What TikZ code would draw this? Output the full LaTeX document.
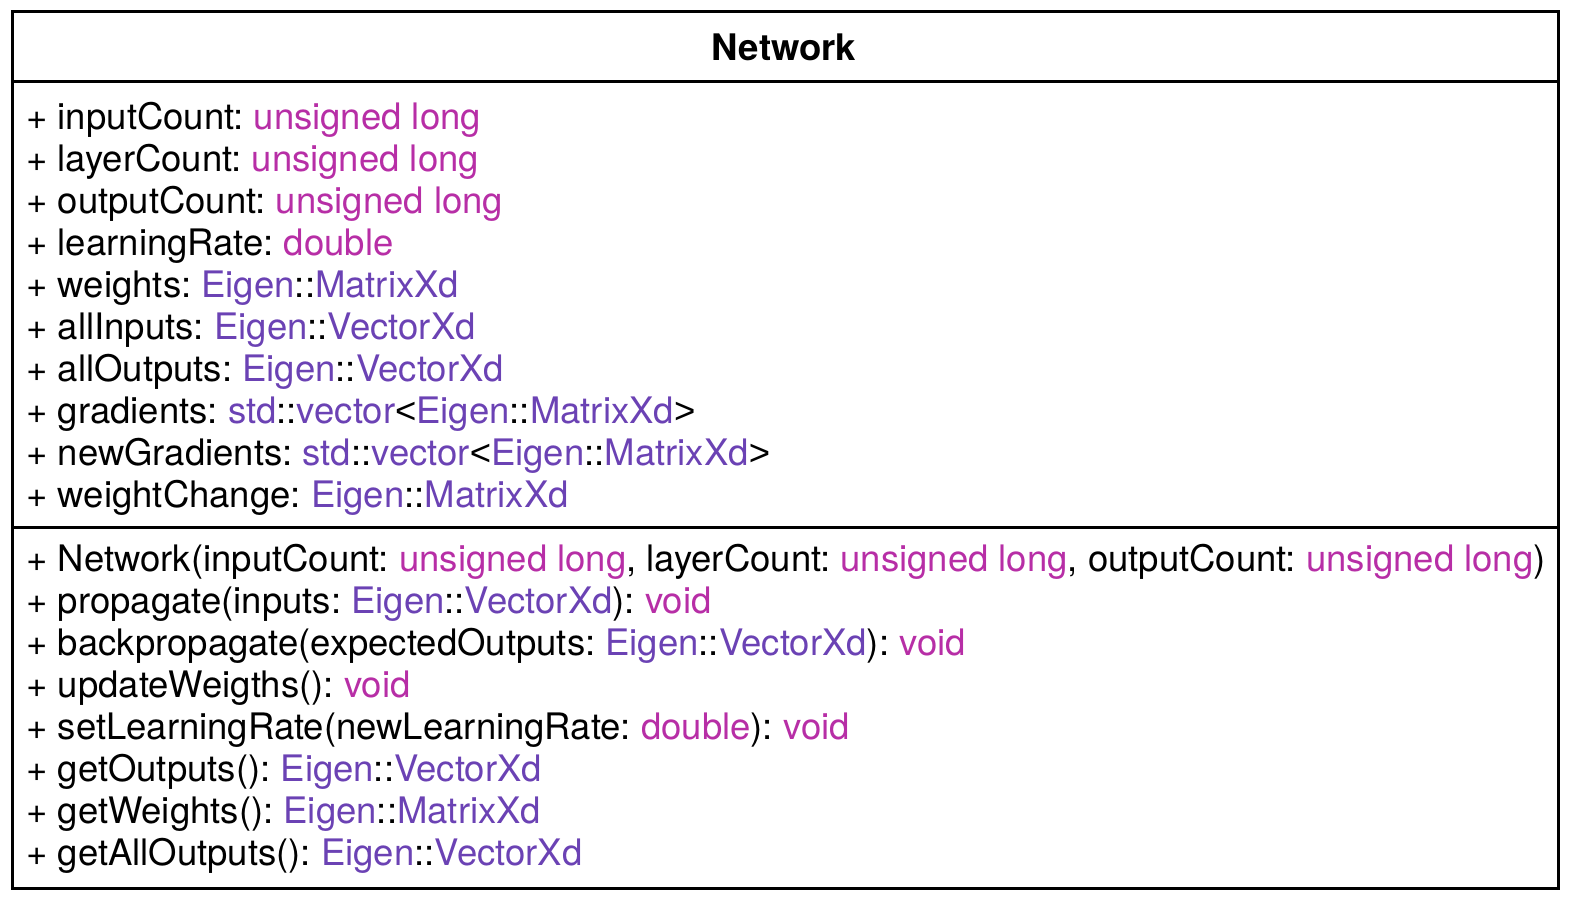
\documentclass[tikz,border=0pt]{standalone}
\usepackage{fontspec}
\setmainfont{TeX Gyre Heros}
\newfontfamily\anglefont{Liberation Sans}
\usetikzlibrary{positioning}
\definecolor{kwcol}{RGB}{183,46,166}
\definecolor{tycol}{RGB}{107,66,180}
\newcommand{\kwd}[1]{\textcolor{kwcol}{#1}}
\newcommand{\typ}[1]{\textcolor{tycol}{#1}}
\newcommand{\lt}{{\anglefont<}}
\newcommand{\gt}{{\anglefont>}}
\frenchspacing

\begin{document}
\begin{tikzpicture}[x=0.5pt,y=0.5pt,
 frame/.style={draw,line width=1.5pt},
 member/.style={anchor=base west,inner sep=0pt,font=\fontsize{18.25}{21}\selectfont},
 cname/.style={anchor=center,inner sep=0pt,font=\fontsize{18.3}{21}\selectfont\bfseries}]
\useasboundingbox (0,0) rectangle (1574,-902);
\draw[frame] (12,-11) rectangle (1558,-888);
\draw[frame] (12,-81) -- (1558,-81);
\draw[frame] (12,-527) -- (1558,-527);
\node[cname] (cls) at (784,-47) {Network};
% attributes
\node[member] (a1) at (26,-129) {+ inputCount: \kwd{unsigned long}};
\node[member] (a2) at (26,-171) {+ layerCount: \kwd{unsigned long}};
\node[member] (a3) at (26,-213) {+ outputCount: \kwd{unsigned long}};
\node[member] (a4) at (26,-255) {+ learningRate: \kwd{double}};
\node[member] (a5) at (26,-297) {+ weights: \typ{Eigen}::\typ{MatrixXd}};
\node[member] (a6) at (26,-339) {+ allInputs: \typ{Eigen}::\typ{VectorXd}};
\node[member] (a7) at (26,-381) {+ allOutputs: \typ{Eigen}::\typ{VectorXd}};
\node[member] (a8) at (26,-423) {+ gradients: \typ{std}::\typ{vector}\lt\typ{Eigen}::\typ{MatrixXd}\gt};
\node[member] (a9) at (26,-465) {+ newGradients: \typ{std}::\typ{vector}\lt\typ{Eigen}::\typ{MatrixXd}\gt};
\node[member] (a10) at (26,-507) {+ weightChange: \typ{Eigen}::\typ{MatrixXd}};
% methods
\node[member] (m1) at (26,-571) {+ Network(inputCount: \kwd{unsigned long}, layerCount: \kwd{unsigned long}, outputCount: \kwd{unsigned long})};
\node[member] (m2) at (26,-613) {+ propagate(inputs: \typ{Eigen}::\typ{VectorXd}): \kwd{void}};
\node[member] (m3) at (26,-655) {+ backpropagate(expectedOutputs: \typ{Eigen}::\typ{VectorXd}): \kwd{void}};
\node[member] (m4) at (26,-697) {+ updateWeigths(): \kwd{void}};
\node[member] (m5) at (26,-739) {+ setLearningRate(newLearningRate: \kwd{double}): \kwd{void}};
\node[member] (m6) at (26,-781) {+ getOutputs(): \typ{Eigen}::\typ{VectorXd}};
\node[member] (m7) at (26,-823) {+ getWeights(): \typ{Eigen}::\typ{MatrixXd}};
\node[member] (m8) at (26,-865) {+ getAllOutputs(): \typ{Eigen}::\typ{VectorXd}};
\end{tikzpicture}
\end{document}
